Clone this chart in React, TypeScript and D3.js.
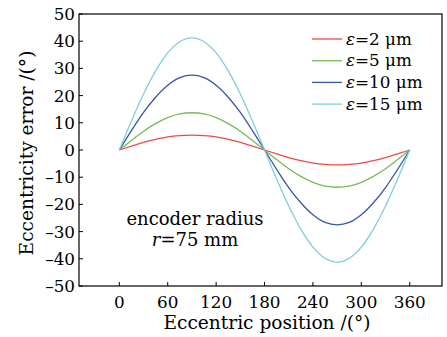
import React from "react";
import * as d3 from "d3";

const positions = [0, 15, 30, 45, 60, 75, 90, 105, 120, 135, 150, 165, 180, 195, 210, 225, 240, 255, 270, 285, 300, 315, 330, 345, 360];
const err2 = [0, 1.4, 2.8, 3.9, 4.8, 5.3, 5.5, 5.3, 4.8, 3.9, 2.8, 1.4, 0, -1.4, -2.8, -3.9, -4.8, -5.3, -5.5, -5.3, -4.8, -3.9, -2.8, -1.4, 0];
const err5 = [0, 3.5, 6.9, 9.7, 11.9, 13.3, 13.7, 13.3, 11.9, 9.7, 6.9, 3.5, 0, -3.5, -6.9, -9.7, -11.9, -13.3, -13.7, -13.3, -11.9, -9.7, -6.9, -3.5, 0];
const err10 = [0, 7.1, 13.8, 19.4, 23.8, 26.6, 27.5, 26.6, 23.8, 19.4, 13.8, 7.1, 0, -7.1, -13.8, -19.4, -23.8, -26.6, -27.5, -26.6, -23.8, -19.4, -13.8, -7.1, 0];
const err15 = [0, 10.7, 20.6, 29.1, 35.7, 39.8, 41.2, 39.8, 35.7, 29.1, 20.6, 10.7, 0, -10.7, -20.6, -29.1, -35.7, -39.8, -41.2, -39.8, -35.7, -29.1, -20.6, -10.7, 0];
const seriesLabels = ["2", "5", "10", "15"];
const xTicks = [0, 60, 120, 180, 240, 300, 360];
const yTicks = [-50, -40, -30, -20, -10, 0, 10, 20, 30, 40, 50];

const colors = ["#ee4a44", "#77bb55", "#3656a8", "#7dcfdc"];
const font = '"DejaVu Serif", serif';

export default function App() {
  const W = 447, H = 337;
  const left = 79, right = 442, top = 14, bottom = 286;
  const x = d3.scaleLinear().domain([-50, 400]).range([left, right]);
  const y = d3.scaleLinear().domain([-50, 50]).range([bottom, top]);
  const line = d3.line<number>()
    .x((_, i) => x(positions[i]))
    .y((d) => y(d))
    .curve(d3.curveMonotoneX);
  const series = [err2, err5, err10, err15];
  const ts: React.CSSProperties = { fontFamily: font, fontSize: 16.8 };
  const title: React.CSSProperties = { fontFamily: font, fontSize: 18.6 };
  const ann: React.CSSProperties = { fontFamily: font, fontSize: 18 };
  return (
    <svg width={W} height={H} style={{ position: "absolute", left: 0, top: 0, background: "#fff" }}>
      {series.map((s, i) => (
        <path key={i} d={line(s) || ""} fill="none" stroke={colors[i]} strokeWidth={1.3} />
      ))}
      <rect x={left} y={top} width={right - left} height={bottom - top} fill="none" stroke="#000" strokeWidth={1.2} />
      {xTicks.map((t) => (
        <g key={t}>
          <line x1={x(t)} x2={x(t)} y1={bottom} y2={bottom - 4} stroke="#000" strokeWidth={1} />
          <text x={x(t)} y={308} style={ts} textAnchor="middle">{t}</text>
        </g>
      ))}
      {yTicks.map((t) => (
        <g key={t}>
          <line x1={left} x2={left + 4} y1={y(t)} y2={y(t)} stroke="#000" strokeWidth={1} />
          <text x={left - 4} y={y(t) + 6} style={ts} textAnchor="end">{t < 0 ? "\u2013" + Math.abs(t) : t}</text>
        </g>
      ))}
      <text x={267} y={329} style={title} textAnchor="middle">Eccentric position /(°)</text>
      <text transform={`translate(33,153) rotate(-90)`} style={title} textAnchor="middle">Eccentricity error /(°)</text>
      <text x={195} y={225} style={ann} textAnchor="middle">encoder radius</text>
      <text x={195} y={246} style={ann} textAnchor="middle"><tspan fontStyle="italic">r</tspan>=75 mm</text>
      {seriesLabels.map((l, i) => {
        const yy = 39 + i * 21.7;
        return (
          <g key={l}>
            <line x1={312} x2={342} y1={yy} y2={yy} stroke={colors[i]} strokeWidth={1.3} />
            <text x={346} y={yy + 5.5} style={ts}><tspan fontStyle="italic">ε</tspan>={l} μm</text>
          </g>
        );
      })}
    </svg>
  );
}
